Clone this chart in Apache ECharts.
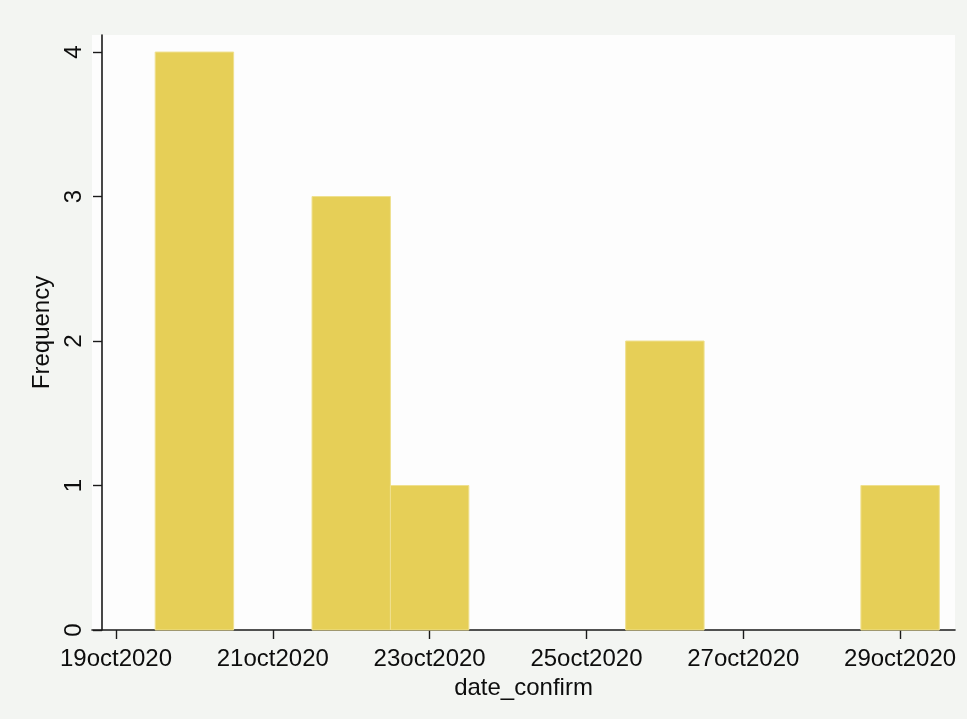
<!DOCTYPE html>
<html>
<head>
<meta charset="utf-8">
<script src="https://cdn.jsdelivr.net/npm/echarts@6/dist/echarts.min.js"></script>
<style>html,body{margin:0;padding:0;background:#f3f5f2;}#c{width:967px;height:719px;}</style>
</head>
<body>
<div id="c"></div>
<script>
// Data (day of October 2020 -> frequency)
const days = [20, 22, 23, 26, 29];
const freq = [4, 3, 1, 2, 1];
const xTickDays = [19, 21, 23, 25, 27, 29];
const xTickLabels = ['19oct2020', '21oct2020', '23oct2020', '25oct2020', '27oct2020', '29oct2020'];
const yTicks = [0, 1, 2, 3, 4];
const binWidth = 1;

const chart = echarts.init(document.getElementById('c'), null, {renderer: 'canvas'});
const FONT = 'Liberation Sans, Arial, sans-serif';
const axisColor = '#1a1a1a';

chart.setOption({
  backgroundColor: '#f3f5f2',
  animation: false,
  grid: {left: 92, right: 12, top: 35, bottom: 89, show: true, backgroundColor: '#fdfdfd', borderWidth: 0},
  xAxis: {
    type: 'value', min: 18.694, max: 29.70,
    name: 'date_confirm', nameLocation: 'middle', nameGap: 40,
    nameTextStyle: {fontFamily: FONT, fontSize: 24, color: '#0d0d0d'},
    axisLine: {show: true, onZero: false, lineStyle: {color: axisColor, width: 1.6}},
    axisTick: {show: true, length: 9, customValues: xTickDays, lineStyle: {color: axisColor, width: 1.4}},
    axisLabel: {
      customValues: xTickDays, margin: 17, fontFamily: FONT, fontSize: 24, color: '#0d0d0d',
      formatter: function (v) { const i = xTickDays.indexOf(Math.round(v)); return i >= 0 ? xTickLabels[i] : ''; }
    },
    splitLine: {show: false}
  },
  yAxis: {
    type: 'value', min: 0, max: 4.118, offset: -10,
    name: 'Frequency', nameLocation: 'middle', nameGap: 42,
    nameTextStyle: {fontFamily: FONT, fontSize: 24, color: '#0d0d0d'},
    axisLine: {show: true, lineStyle: {color: axisColor, width: 1.6}},
    axisTick: {show: true, length: 9, customValues: yTicks, lineStyle: {color: axisColor, width: 1.4}},
    axisLabel: {customValues: yTicks, rotate: 90, margin: 16, fontFamily: FONT, fontSize: 24, color: '#0d0d0d'},
    splitLine: {show: false}
  },
  series: [{
    type: 'custom',
    data: days.map((d, i) => [d, freq[i]]),
    encode: {x: 0, y: 1},
    renderItem: function (params, api) {
      const x = api.value(0), y = api.value(1);
      const p0 = api.coord([x - binWidth / 2, y]);
      const p1 = api.coord([x + binWidth / 2, 0]);
      return {
        type: 'rect',
        shape: {x: p0[0], y: p0[1], width: p1[0] - p0[0], height: p1[1] - p0[1]},
        style: {fill: '#e6cf57', stroke: '#efe08f', lineWidth: 1}
      };
    }
  }]
});
</script>
</body>
</html>
